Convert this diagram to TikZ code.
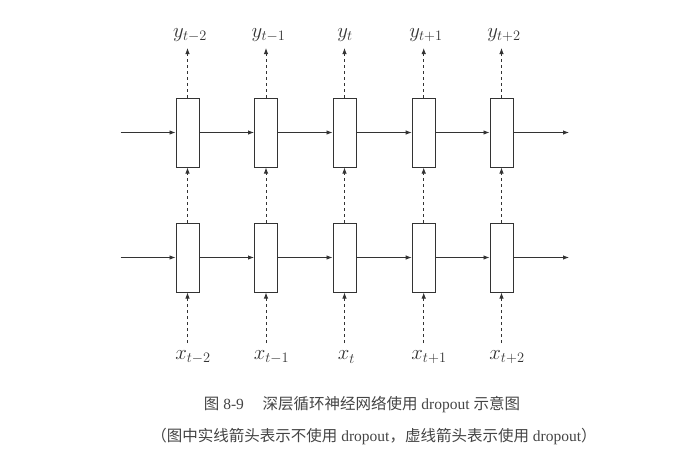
\documentclass[tikz,border=0pt]{standalone}
\usepackage{fontspec}
\setmainfont{Liberation Serif}
\newfontfamily\cjk{Noto Sans CJK SC}
\DeclareMathSizes{20}{20}{15.5}{12}
\usetikzlibrary{arrows.meta}
\definecolor{ink}{HTML}{333333}
\definecolor{captext}{HTML}{444444}
\begin{document}
\begin{tikzpicture}[x=1pt,y=-1pt,
  cell/.style={draw=ink,line width=1pt,minimum width=23pt,minimum height=69pt,inner sep=0pt},
  solidarr/.style={draw=ink,line width=0.9pt,-{Latex[length=6pt,width=4.5pt]}},
  dasharr/.style={draw=ink,line width=0.9pt,dash pattern=on 3pt off 3pt,-{Latex[length=6pt,width=4.5pt]}},
  lab/.style={text=ink,font=\fontsize{20}{24}\selectfont,inner sep=2pt},
  captxt/.style={text=captext,font=\fontsize{15.5}{18}\selectfont,inner sep=0pt}]
\useasboundingbox (0,0) rectangle (676,456);
% boxes
\foreach \i/\x in {1/187.5,2/266,3/344.5,4/423.7,5/501.5}{
  \node[cell] (t\i) at (\x,132.5) {};
  \node[cell] (b\i) at (\x,257.5) {};
}
% labels
\node[lab] (y1) at (190,35) {$y_{t-2}$};
\node[lab] (y2) at (268.5,35) {$y_{t-1}$};
\node[lab] (y3) at (345,35) {$y_{t}$};
\node[lab] (y4) at (426,35) {$y_{t+1}$};
\node[lab] (y5) at (504,35) {$y_{t+2}$};
\node[lab] (x1) at (193,357) {$x_{t-2}$};
\node[lab] (x2) at (271.5,357) {$x_{t-1}$};
\node[lab] (x3) at (346.5,357) {$x_{t}$};
\node[lab] (x4) at (429,357) {$x_{t+1}$};
\node[lab] (x5) at (507,357) {$x_{t+2}$};
% vertical dashed arrows
\foreach \i in {1,...,5}{
  \draw[dasharr] (t\i.north) -- (t\i.north |- 0,48);
  \draw[dasharr] (b\i.north) -- (t\i.south);
  \draw[dasharr] (b\i.south |- 0,343) -- (b\i.south);
}
% horizontal arrows
\coordinate (tl) at (120.7,132.5);
\coordinate (tr) at (569,132.5);
\coordinate (bl) at (120.7,257.5);
\coordinate (br) at (569,257.5);
\draw[solidarr] (tl) -- (t1.west);
\draw[solidarr] (bl) -- (b1.west);
\foreach \i/\j in {1/2,2/3,3/4,4/5}{
  \draw[solidarr] (t\i.east) -- (t\j.west);
  \draw[solidarr] (b\i.east) -- (b\j.west);
}
\draw[solidarr] (t5.east) -- (tr);
\draw[solidarr] (b5.east) -- (br);
% caption
\node[captxt] (c1) at (362,405) {{\cjk 图} 8-9\hspace{1.2em}{\cjk 深层循环神经网络使用} dropout {\cjk 示意图}};
\node[captxt] (c2) at (374,437) {{\cjk （图中实线箭头表示不使用} dropout{\cjk ，虚线箭头表示使用} dropout{\cjk ）}};
\end{tikzpicture}
\end{document}
